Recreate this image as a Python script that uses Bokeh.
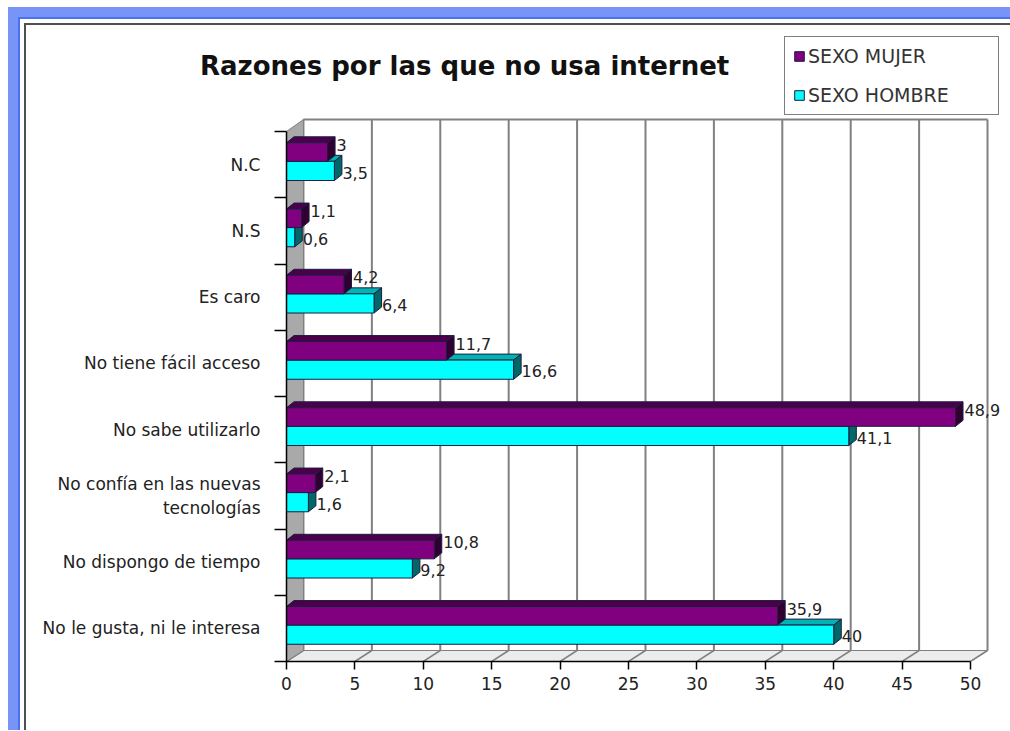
from bokeh.plotting import figure
from bokeh.models import (ColumnDataSource, Range1d, FixedTicker, Legend, LegendItem,
                          LabelSet, Column, LinearAxis, Div)
from bokeh.core.properties import value
from bokeh.embed import file_html
from bokeh.resources import INLINE

# ---- data (top to bottom as in the picture) ----
categories = ["N.C", "N.S", "Es caro", "No tiene fácil acceso", "No sabe utilizarlo",
              "No confía en las nuevas\ntecnologías", "No dispongo de tiempo",
              "No le gusta, ni le interesa"]
mujer = [3, 1.1, 4.2, 11.7, 48.9, 2.1, 10.8, 35.9]
hombre = [3.5, 0.6, 6.4, 16.6, 41.1, 1.6, 9.2, 40]
x_ticks = [0, 5, 10, 15, 20, 25, 30, 35, 40, 45, 50]
series_names = ["SEXO MUJER", "SEXO HOMBRE"]
title_text = "Razones por las que no usa internet"

FONT = "DejaVu Sans"
n = len(categories)
pos = [n - 1 - k for k in range(n)]          # band index from bottom
xmax = x_ticks[-1]

p = figure(frame_width=724, frame_height=636, min_border_left=260, min_border_top=0,
           min_border_bottom=69, min_border_right=0,
           x_range=Range1d(0, 52.92), y_range=Range1d(0, 9.6),
           output_backend="svg", toolbar_location=None, x_axis_type=None, y_axis_type=None)
p.xgrid.visible = False
p.ygrid.visible = False
p.outline_line_color = None
p.background_fill_color = None
p.border_fill_color = None

# ---- 3D box: back wall, floor, left wall ----
wx, wy, wtop = 1.24, 0.166, 8.18
p.quad(left=wx, right=xmax + wx, bottom=wy, top=wtop, fill_color="white", line_color=None)
p.patch([0, xmax, xmax + wx, wx], [0, 0, wy, wy], fill_color="#ececec", line_color="#808080", line_width=1)
p.segment(x0=[t + wx for t in x_ticks], y0=[wy] * len(x_ticks),
          x1=[t + wx for t in x_ticks], y1=[wtop] * len(x_ticks), line_color="#808080", line_width=2)
p.segment(x0=[wx], y0=[wtop], x1=[xmax + wx], y1=[wtop], line_color="#808080", line_width=2)
p.segment(x0=x_ticks, y0=[0] * len(x_ticks), x1=[t + wx for t in x_ticks], y1=[wy] * len(x_ticks),
          line_color="#808080", line_width=1.5)
p.patch([0, 0, wx, wx], [0, n, wtop, wy], fill_color="#a9a9a9", line_color="#808080", line_width=1)

# ---- 3D bars ----
dx, dy = 0.55, 0.09
outline = "#1c1c40"

def bars(vals, b_off, t_off, front, top_c, side_c):
    bot = [i + b_off for i in pos]
    top = [i + t_off for i in pos]
    p.patches(xs=[[0, v, v + dx, dx] for v in vals],
              ys=[[t, t, t + dy, t + dy] for t in top],
              fill_color=top_c, line_color=outline, line_width=1)
    p.patches(xs=[[v, v + dx, v + dx, v] for v in vals],
              ys=[[b, b + dy, t + dy, t] for b, t in zip(bot, top)],
              fill_color=side_c, line_color=outline, line_width=1)
    src = ColumnDataSource(dict(left=[0] * len(vals), right=vals, bottom=bot, top=top))
    return p.quad(left="left", right="right", bottom="bottom", top="top", source=src,
                  fill_color=front, line_color=outline, line_width=1)

r_h = bars(hombre, 0.26, 0.55, "#00ffff", "#00b4b4", "#006868")
r_m = bars(mujer, 0.55, 0.83, "#800080", "#4a004a", "#300030")

def fmt(v):
    return f"{v:g}".replace(".", ",")

lab_m = ColumnDataSource(dict(x=mujer, y=[i + 0.80 for i in pos], t=[fmt(v) for v in mujer]))
lab_h = ColumnDataSource(dict(x=hombre, y=[i + 0.38 for i in pos], t=[fmt(v) for v in hombre]))
for src, xo in ((lab_m, 9), (lab_h, 8)):
    p.add_layout(LabelSet(x="x", y="y", text="t", source=src, x_offset=xo,
                          text_baseline="middle", text_align="left", text_font=value(FONT),
                          text_font_size=value("16px"), text_color="#222222"))

# ---- axes ----
xa = LinearAxis(ticker=FixedTicker(ticks=x_ticks, minor_ticks=[]), bounds=(0, xmax))
xa.major_tick_out = 8
xa.major_tick_in = 0
xa.minor_tick_out = 0
xa.axis_line_color = "black"
xa.axis_line_width = 1.5
xa.major_tick_line_width = 1.5
xa.major_label_text_font = FONT
xa.major_label_text_font_size = "17px"
xa.major_label_text_color = "#222222"
xa.major_label_standoff = 7
p.add_layout(xa, "below")

ya = LinearAxis(ticker=FixedTicker(ticks=[i + 0.5 for i in pos], minor_ticks=list(range(n + 1))),
                bounds=(0, n))
ya.major_label_overrides = {i + 0.5: c for i, c in zip(pos, categories)}
ya.major_tick_out = 0
ya.major_tick_in = 0
ya.minor_tick_out = 12
ya.minor_tick_in = 0
ya.minor_tick_line_color = "black"
ya.minor_tick_line_width = 1.5
ya.axis_line_color = "black"
ya.axis_line_width = 1.5
ya.major_label_text_font = FONT
ya.major_label_text_font_size = "17px"
ya.major_label_text_color = "#222222"
ya.major_label_standoff = 14
p.add_layout(ya, "left")

# ---- legend ----
legend = Legend(items=[LegendItem(label=series_names[0], renderers=[r_m]),
                       LegendItem(label=series_names[1], renderers=[r_h])],
                location=(498, 546), orientation="vertical")
legend.glyph_width = 12
legend.glyph_height = 12
legend.label_height = 20
legend.label_width = 182
legend.label_standoff = 3
legend.spacing = 17
legend.padding = 8
legend.margin = 0
legend.label_text_font = FONT
legend.label_text_font_size = "19px"
legend.label_text_color = "#333333"
legend.border_line_color = "black"
legend.border_line_width = 1.5
legend.background_fill_color = "white"
legend.background_fill_alpha = 1
p.add_layout(legend)

# ---- title (HTML text placed over the chart's top area) ----
title = Div(text=title_text, width=620, height=30,
            styles={"position": "absolute", "left": "195px", "top": "46px", "z-index": "10",
                    "font-family": FONT, "font-size": "26px", "font-weight": "bold",
                    "color": "#111111", "line-height": "30px", "white-space": "nowrap"})

inner = Column(children=[p], styles={"background-color": "#ffffff",
                                     "border-top": "2px solid #505050",
                                     "border-left": "2px solid #505050"})
mid = Column(children=[inner], styles={"background-color": "#ffffff", "padding": "4px 0 0 4px"})
bright = Column(children=[mid], styles={"background-color": "#4a70f4", "padding": "2px 0 0 2px"})
blue = Column(children=[bright], styles={"background-color": "#7894f6", "padding": "10px 0 0 10px"})
outer = Column(children=[blue, title], styles={"background-color": "#ffffff", "padding": "7px 0 0 8px",
                                               "position": "relative"})

open("out.html", "w").write(file_html(outer, INLINE))
